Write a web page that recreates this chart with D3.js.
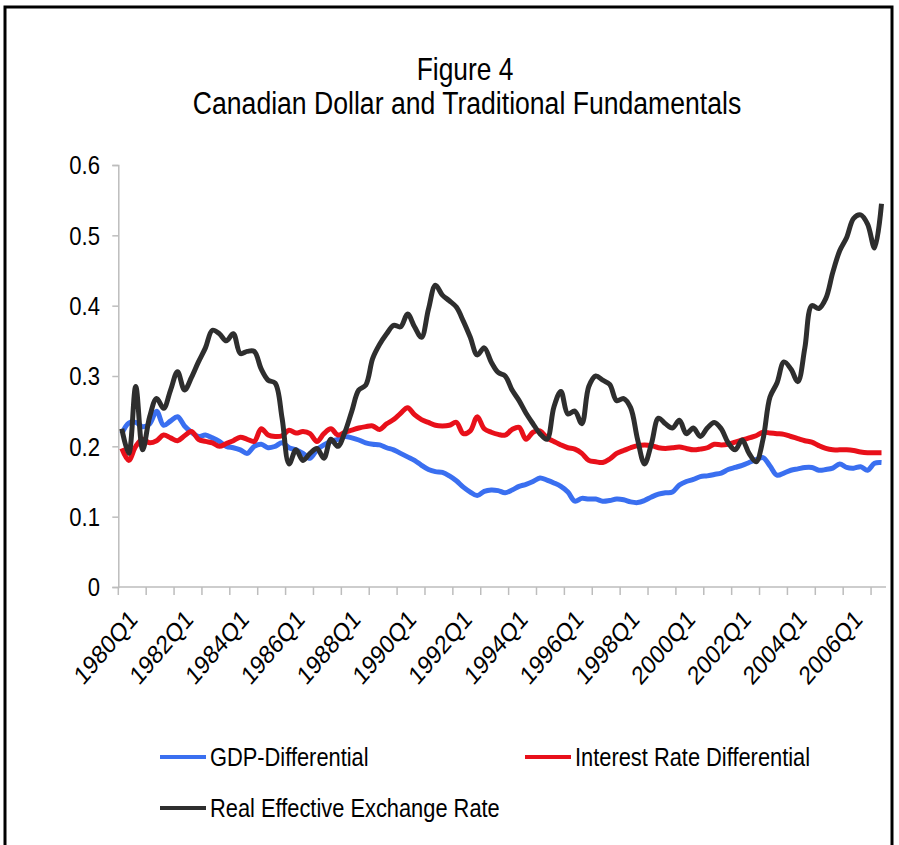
<!DOCTYPE html>
<html>
<head>
<meta charset="utf-8">
<script src="https://cdn.jsdelivr.net/npm/d3@7"></script>
<style>
  body { margin: 0; background: #fff; }
  text { font-family: "Liberation Sans", Arial, sans-serif; fill: #000; }
</style>
</head>
<body>
<svg id="chart" width="899" height="845"></svg>
<script>
// quarterly categories 1980Q1 .. 2007Q2
var firstYear = 1980, lastYear = 2007, lastQuarter = 2;
var quarters = [];
for (var y = firstYear; y <= lastYear; y++) {
  for (var q = 1; q <= 4; q++) {
    if (y === lastYear && q > lastQuarter) break;
    quarters.push(y + "Q" + q);
  }
}
var yTicks = [0, 0.1, 0.2, 0.3, 0.4, 0.5, 0.6];

var gdpDiff = [
  0.218, 0.233, 0.234, 0.228, 0.232, 0.250, 0.230, 0.236, 0.242, 0.229,
  0.220, 0.214, 0.216, 0.212, 0.207, 0.200, 0.198, 0.195, 0.190, 0.200,
  0.203, 0.198, 0.200, 0.205, 0.198, 0.195, 0.190, 0.183, 0.195, 0.202,
  0.207, 0.210, 0.214, 0.212, 0.209, 0.205, 0.203, 0.202, 0.198, 0.195,
  0.190, 0.185, 0.180, 0.173, 0.167, 0.164, 0.163, 0.158, 0.151, 0.142,
  0.135, 0.130, 0.136, 0.138, 0.137, 0.134, 0.138, 0.143, 0.146, 0.150,
  0.155, 0.152, 0.148, 0.143, 0.135, 0.122, 0.126, 0.125, 0.125, 0.122,
  0.123, 0.125, 0.124, 0.121, 0.120, 0.123, 0.128, 0.132, 0.134, 0.135,
  0.145, 0.150, 0.153, 0.157, 0.158, 0.160, 0.162, 0.167, 0.170, 0.173,
  0.177, 0.181, 0.184, 0.172, 0.159, 0.162, 0.166, 0.168, 0.170, 0.170,
  0.166, 0.167, 0.169, 0.175, 0.170, 0.169, 0.171, 0.166, 0.176, 0.177
];
var interestDiff = [
  0.197, 0.180, 0.200, 0.210, 0.205, 0.208, 0.216, 0.212, 0.208, 0.215,
  0.221, 0.210, 0.207, 0.205, 0.200, 0.204, 0.208, 0.213, 0.210, 0.207,
  0.225, 0.216, 0.214, 0.215, 0.223, 0.219, 0.221, 0.218, 0.207, 0.218,
  0.225, 0.216, 0.220, 0.223, 0.226, 0.228, 0.229, 0.224, 0.232, 0.238,
  0.247, 0.255, 0.245, 0.238, 0.234, 0.230, 0.229, 0.230, 0.234, 0.218,
  0.222, 0.242, 0.225, 0.220, 0.217, 0.216, 0.224, 0.227, 0.210, 0.220,
  0.222, 0.212, 0.207, 0.202, 0.198, 0.196, 0.190, 0.180, 0.178, 0.177,
  0.182, 0.190, 0.194, 0.198, 0.201, 0.202, 0.201, 0.198, 0.197, 0.198,
  0.199, 0.197, 0.195, 0.196, 0.198, 0.203, 0.202, 0.203, 0.206, 0.209,
  0.212, 0.215, 0.220, 0.219, 0.218, 0.217, 0.214, 0.211, 0.208, 0.206,
  0.201, 0.197, 0.195, 0.195, 0.195, 0.194, 0.192, 0.191, 0.191, 0.191
];
var reer = [
  0.225, 0.190, 0.285, 0.195, 0.242, 0.268, 0.254, 0.280, 0.306, 0.280,
  0.298, 0.320, 0.340, 0.365, 0.360, 0.350, 0.360, 0.332, 0.335, 0.335,
  0.310, 0.294, 0.290, 0.240, 0.175, 0.195, 0.180, 0.190, 0.197, 0.183,
  0.210, 0.200, 0.220, 0.250, 0.280, 0.287, 0.325, 0.345, 0.360, 0.372,
  0.370, 0.388, 0.370, 0.355, 0.395, 0.429, 0.415, 0.407, 0.398, 0.378,
  0.355, 0.330, 0.340, 0.320, 0.305, 0.300, 0.280, 0.265, 0.247, 0.232,
  0.218, 0.210, 0.256, 0.278, 0.246, 0.250, 0.232, 0.285, 0.300, 0.294,
  0.288, 0.265, 0.268, 0.255, 0.210, 0.175, 0.204, 0.240, 0.232, 0.226,
  0.237, 0.218, 0.226, 0.214, 0.226, 0.234, 0.225, 0.205, 0.195, 0.209,
  0.190, 0.178, 0.210, 0.270, 0.290, 0.320, 0.310, 0.292, 0.340, 0.400,
  0.396, 0.410, 0.447, 0.478, 0.497, 0.524, 0.529, 0.516, 0.482, 0.545
];

var seriesNames = ["GDP-Differential", "Interest Rate Differential", "Real Effective Exchange Rate"];
var seriesColors = ["#3a6ff0", "#e8101a", "#2e2e2e"];
var seriesValues = [gdpDiff, interestDiff, reer];

var squeeze = 0.85; // the source glyphs look narrow and tall

var svg = d3.select("#chart");

// outer frame
svg.append("rect").attr("x", 5).attr("y", 7).attr("width", 887).attr("height", 850)
  .attr("fill", "none").attr("stroke", "#000").attr("stroke-width", 3);

// title
svg.append("text").attr("transform", "translate(465,80) scale(" + squeeze + ",1)")
  .attr("text-anchor", "middle").style("font-size", "31px").text("Figure 4");
svg.append("text").attr("transform", "translate(467,114) scale(" + squeeze + ",1)")
  .attr("text-anchor", "middle").style("font-size", "31.3px")
  .text("Canadian Dollar and Traditional Fundamentals");

var x = d3.scaleBand().domain(quarters).range([118.3, 885]);
var yScale = d3.scaleLinear().domain([0, 0.6]).range([587, 165]);

// y axis
var yAxis = d3.axisLeft(yScale).tickValues(yTicks).tickSize(6).tickFormat("");
var gy = svg.append("g").attr("transform", "translate(118.3,0)").call(yAxis);
gy.select(".domain").attr("stroke", "#bdbdbd").attr("stroke-width", 1.5);
gy.selectAll(".tick line").attr("stroke", "#bdbdbd").attr("stroke-width", 1.5);
svg.append("g").selectAll("text").data(yTicks).enter().append("text")
  .attr("transform", function(d) { return "translate(100," + yScale(d) + ") scale(" + squeeze + ",1)"; })
  .attr("text-anchor", "end").attr("dy", "0.36em").style("font-size", "26px")
  .text(function(d) { return d === 0 ? "0" : d3.format(".1f")(d); });

// x axis line and yearly ticks at category boundaries
svg.append("line").attr("x1", 118.3).attr("x2", 886).attr("y1", 587).attr("y2", 587)
  .attr("stroke", "#bdbdbd").attr("stroke-width", 1.5);
var tickQuarters = quarters.filter(function(d, i) { return i % 4 === 0; });
svg.append("g").selectAll("line").data(tickQuarters).enter().append("line")
  .attr("x1", function(d) { return x(d); }).attr("x2", function(d) { return x(d); })
  .attr("y1", 587).attr("y2", 595)
  .attr("stroke", "#bdbdbd").attr("stroke-width", 1.5);

var labelQuarters = quarters.filter(function(d, i) { return i % 8 === 0; });
svg.append("g").selectAll("text").data(labelQuarters).enter().append("text")
  .attr("transform", function(d) {
    return "translate(" + (x(d) + x.bandwidth() / 2 + 6) + ",608) scale(" + squeeze + ",1) rotate(-45)";
  })
  .attr("text-anchor", "end").attr("dy", "0.7em")
  .style("font-size", "26px").text(function(d) { return d; });

// series lines
var line = d3.line()
  .x(function(d, i) { return x(quarters[i]) + x.bandwidth() / 2; })
  .y(function(d) { return yScale(d); })
  .curve(d3.curveCatmullRom.alpha(0.5));

svg.append("g").selectAll("path").data(seriesValues).enter().append("path")
  .attr("d", line)
  .attr("fill", "none")
  .attr("stroke", function(d, i) { return seriesColors[i]; })
  .attr("stroke-width", 5)
  .attr("stroke-linejoin", "round");

// legend
var legendPos = [[160, 757], [525, 757], [160, 808]];
var legend = svg.append("g").selectAll("g").data(seriesNames).enter().append("g")
  .attr("transform", function(d, i) { return "translate(" + legendPos[i][0] + "," + legendPos[i][1] + ")"; });
legend.append("line").attr("x1", 0).attr("x2", 46).attr("y1", 0).attr("y2", 0)
  .attr("stroke", function(d, i) { return seriesColors[i]; }).attr("stroke-width", 4);
legend.append("text").attr("transform", "translate(50,9) scale(" + squeeze + ",1)")
  .style("font-size", "25.7px").text(function(d) { return d; });
</script>
</body>
</html>
